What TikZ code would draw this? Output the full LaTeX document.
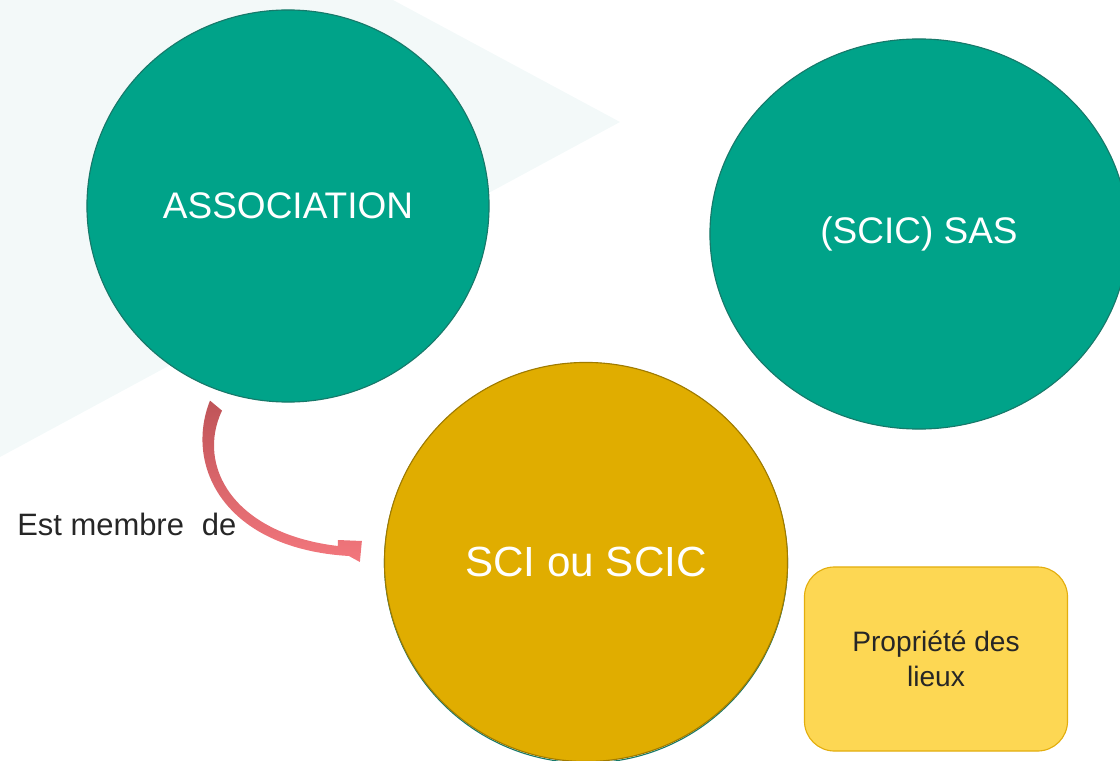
\documentclass[tikz,border=0pt]{standalone}
\usepackage{fontspec}
\setmainfont{Liberation Sans}
\usetikzlibrary{shapes.geometric,calc}
\definecolor{bgtri}{HTML}{F3F9F9}
\definecolor{tealfill}{HTML}{00A389}
\definecolor{tealline}{HTML}{17796A}
\definecolor{goldfill}{HTML}{E0AD00}
\definecolor{goldline}{HTML}{A07B00}
\definecolor{boxfill}{HTML}{FDD753}
\definecolor{boxline}{HTML}{E3AE0E}
\definecolor{arrowdark}{HTML}{BF5458}
\definecolor{arrowlight}{HTML}{F3777D}
\definecolor{darktext}{HTML}{262626}

\begin{document}
\begin{tikzpicture}[x=0.025cm, y=-0.025cm,
    bubble/.style={ellipse, inner sep=0pt, text=white, line width=0.8pt},
    every node/.style={font=\fontsize{26.3}{31}\selectfont}]
  \useasboundingbox (0,0) rectangle (1120,761);
  % Background triangle
  \fill[bgtri] (0,0) -- (393,0) -- (620,122) -- (0,457) -- cycle;
  % Green circles
  \node[bubble, fill=tealfill, draw=tealline, minimum width=10.05cm, minimum height=9.8cm] (assoc) at (288,206) {ASSOCIATION};
  \node[bubble, fill=tealfill, draw=tealline, minimum width=10.45cm, minimum height=9.75cm] (sas) at (919,234) {(SCIC) SAS};
  % Yellow circle (teal rim shows underneath)
  \draw[tealline, line width=0.8pt] (586,563) ellipse (201.5 and 200);
  \node[bubble, fill=goldfill, draw=goldline, minimum width=10.075cm, minimum height=9.975cm,
        font=\fontsize{30}{36}\selectfont] (sci) at (586,562) {SCI ou SCIC};
  % Box
  \node[rectangle, rounded corners=0.75cm, fill=boxfill, draw=boxline, line width=0.8pt,
        minimum width=6.575cm, minimum height=4.6cm, align=center, text=darktext,
        font=\fontsize{20}{24.8}\selectfont] (lieux) at (936,659) {Propriété des\\lieux};
  % Curved arrow
  \coordinate (tail) at ($(assoc.south)+(-70,3)$);
  \coordinate (tip) at ($(sci.west)+(-22,-10)$);
  \shade[top color=arrowdark, bottom color=arrowlight]
    ($(tail)+(-8,-5)$) -- ($(tail)+(4,5)$)
    .. controls ($(tail)+(-22,60)$) and ($(tail)+(15,128)$) .. ($(tip)+(-24,-6)$)
    -- ($(tip)+(-24,-12)$) -- ($(tip)+(0,-11)$) -- ($(tip)+(-2,10)$) -- ($(tip)+(-13,4)$)
    .. controls ($(tail)+(6,143)$) and ($(tail)+(-34,60)$) .. ($(tail)+(-8,-5)$) -- cycle;
  % Label
  \node[anchor=base west, text=darktext, font=\fontsize{22}{26}\selectfont, inner sep=0pt] (member) at (17,535) {Est membre\hspace{0.3em} de};
\end{tikzpicture}
\end{document}
